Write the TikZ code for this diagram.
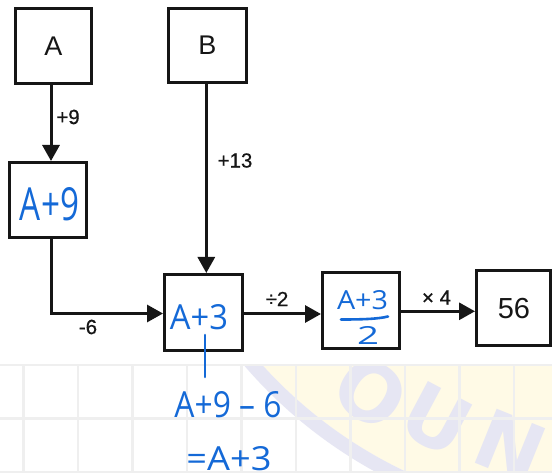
\documentclass[tikz,border=0pt]{standalone}
\usepackage{fontspec}
\usepackage{graphicx}
\setmainfont{Liberation Sans}
\newfontfamily\inkfont{Liberation Sans}[FakeBold=0.6]
\newfontfamily\handfont{Open Sans}
\newfontfamily\wmfont{DejaVu Sans}
\usetikzlibrary{arrows.meta}

\definecolor{ink}{RGB}{22,22,22}
\definecolor{pen}{RGB}{20,105,215}
\definecolor{gridgray}{RGB}{239,239,239}
\definecolor{wmyellow}{RGB}{255,250,230}
\definecolor{wmlav}{RGB}{230,230,243}

\tikzset{
  box/.style={draw=ink, line width=3pt, inner sep=0pt, fill=white},
  link/.style={draw=ink, line width=3pt, -{Triangle[length=16pt,width=17pt]}},
  bigtext/.style={inner sep=0pt, text=ink, font=\fontsize{27}{27}\selectfont},
  oplabel/.style={inner sep=0pt, text=ink, font=\inkfont\fontsize{20.5}{20.5}\selectfont},
  hand/.style={inner sep=0pt, text=pen, font=\handfont},
  penline/.style={draw=pen, line width=2.6pt, line cap=round},
  wmletter/.style={inner sep=0pt, fill=none, text=wmlav, font=\wmfont\fontsize{80}{80}\selectfont\bfseries},
}

\begin{document}
\begin{tikzpicture}[x=1pt, y=-1pt]
\useasboundingbox (0,0) rectangle (552,473);
\fill[white] (0,0) rectangle (552,473);

% ruled sheet with the faint logo underneath the working
\begin{scope}
  \clip (0,364) rectangle (552,473);
  \fill[wmyellow] (600,60) circle[radius=455];
  \draw[wmlav, line width=14pt] (600,60) circle[radius=462];
  \node[wmletter, rotate=-34] (wmO) at (371,392) {O};
  \node[wmletter, rotate=-28] (wmU) at (437,420) {U};
  \node[wmletter, rotate=-22] (wmN) at (510,446) {N};
  \foreach \gy in {365,418.5,472}
    \draw[gridgray, line width=2.5pt] (0,\gy) -- (552,\gy);
  \foreach \gx in {0,...,9}
    \draw[gridgray, line width=2.5pt] (23.5+54.5*\gx,364) -- (23.5+54.5*\gx,473);
\end{scope}

% boxes
\node[box, minimum width=76pt, minimum height=75pt] (A)   at (53.5,46)    {};
\node[box, minimum width=78pt, minimum height=74pt] (B)   at (207.5,45.5) {};
\node[box, minimum width=77pt, minimum height=75pt] (A9)  at (48,200)     {};
\node[box, minimum width=78pt, minimum height=76pt] (A3)  at (203.5,312.5){};
\node[box, minimum width=77pt, minimum height=76pt] (F)   at (361,310.3)  {};
\node[box, minimum width=74pt, minimum height=75pt] (R)   at (513.5,308)  {};

% printed box texts
\node[bigtext] (tA) at (A) {A};
\node[bigtext] (tB) at (B) {B};
\node[bigtext, font=\fontsize{29}{29}\selectfont] (t56) at (514,309) {56};

% connectors
\coordinate (colA) at (51,0);
\coordinate (colB) at (206.3,0);
\draw[link] (A.south -| colA) -- (A9.north -| colA);
\draw[link] (B.south -| colB) -- (A3.north -| colB);
\draw[link] (A9.south -| colA) |- ([yshift=-1pt]A3.west);
\draw[link] ([yshift=-1.5pt]A3.east) -- ([yshift=-1.5pt]A3.east -| F.west);
\draw[link] ([yshift=-1pt]F.east) -- ([yshift=-1pt]F.east -| R.west);

% operation labels
\node[oplabel] (l9)  at (68,117)    {+9};
\node[oplabel] (l13) at (235,160.5) {+13};
\node[oplabel] (l6)  at (88,327)    {-6};
\node[oplabel] (ld)  at (277,299)   {÷2};
\node[oplabel] (lm)  at (436.5,297.5) {× 4};

% handwritten working
\node[hand] (hA9) at (49.5,204.5) {\resizebox{59pt}{33pt}{A+9}};
\node[hand] (hA3) at (199,317.5)  {\resizebox{58pt}{25pt}{A+3}};
\node[hand] (hnum) at (362.5,300.5) {\resizebox{51pt}{19pt}{A+3}};
\node[hand] (hden) at (368,335)   {\resizebox{22pt}{18pt}{2}};
\draw[penline] (341,319.5) .. controls (362,319.5) and (378,319) .. (388,316.5);
\coordinate (tick1) at (205,335);
\coordinate (tick2) at (205,377);
\draw[penline] (tick1) -- (tick2);
\node[hand] (hstep) at (228,405) {\resizebox{107pt}{26pt}{A+9 – 6}};
\node[hand] (hres)  at (229,459) {\resizebox{85pt}{24pt}{=A+3}};
\end{tikzpicture}
\end{document}
